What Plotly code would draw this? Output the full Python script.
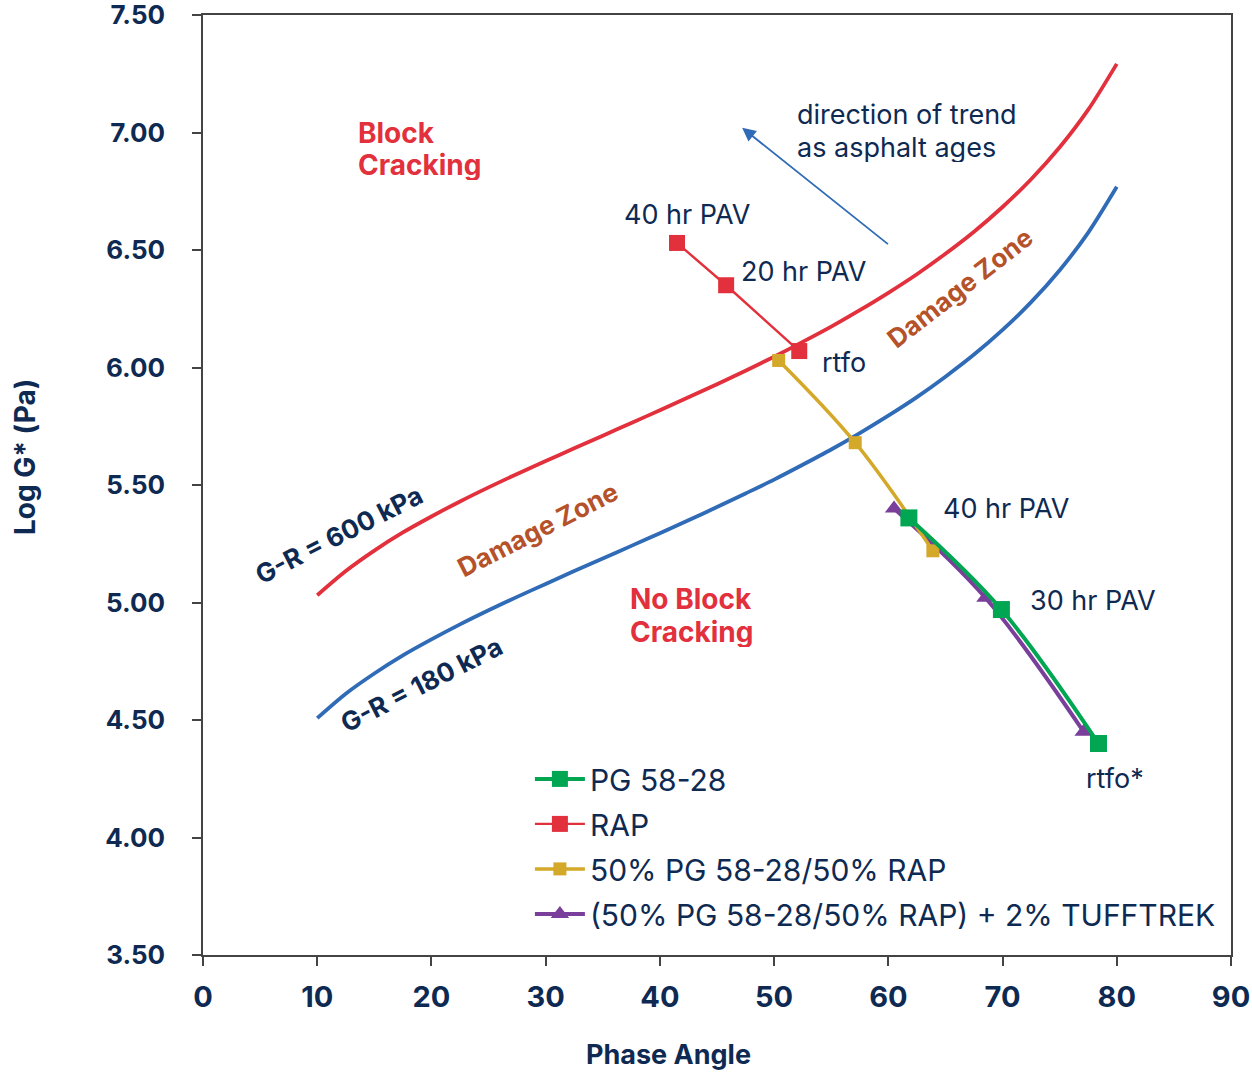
import plotly.graph_objects as go

# ---- data ----
phase_curve = [10, 12.5, 15, 17.5, 20, 22.5, 25, 27.5, 30, 32.5, 35, 37.5, 40, 42.5, 45, 47.5,
               50, 52.5, 55, 57.5, 60, 62.5, 65, 67.5, 70, 72.5, 75, 77.5, 80]
gr600 = [5.031, 5.134, 5.221, 5.298, 5.366, 5.430, 5.490, 5.547, 5.602, 5.656, 5.710, 5.764, 5.818, 5.873,
         5.929, 5.986, 6.046, 6.109, 6.174, 6.244, 6.318, 6.397, 6.484, 6.578, 6.683, 6.801, 6.937, 7.097, 7.292]
gr180 = [4.508, 4.612, 4.698, 4.775, 4.843, 4.907, 4.967, 5.024, 5.079, 5.134, 5.187, 5.241, 5.295, 5.350,
         5.406, 5.464, 5.523, 5.586, 5.651, 5.721, 5.795, 5.874, 5.961, 6.055, 6.160, 6.278, 6.414, 6.574, 6.769]

pg_x = [61.8, 69.9, 78.4]
pg_y = [5.36, 4.97, 4.40]
rap_x = [41.5, 45.8, 52.2]
rap_y = [6.53, 6.35, 6.07]
blend_x = [50.4, 57.1, 63.9]
blend_y = [6.03, 5.68, 5.22]
tuff_x = [60.5, 68.5, 77.1]
tuff_y = [5.40, 5.02, 4.45]

names = ["PG 58-28", "RAP", "50% PG 58-28/50% RAP", "(50% PG 58-28/50% RAP) + 2% TUFFTREK"]

x_ticks = [0, 10, 20, 30, 40, 50, 60, 70, 80, 90]
y_ticks = [3.5, 4.0, 4.5, 5.0, 5.5, 6.0, 6.5, 7.0, 7.5]

NAVY = "#0E2A52"
RED = "#E2303C"
BLUE = "#2F6BB6"
GOLD = "#D4A829"
GREEN = "#00A651"
PURPLE = "#7A3E9B"
BROWN = "#B5522A"
FONT = "Inter"

fig = go.Figure()
fig.add_trace(go.Scatter(x=phase_curve, y=gr600, mode="lines",
                         line=dict(color=RED, width=3.8, shape="spline", smoothing=0.8),
                         showlegend=False, hoverinfo="skip"))
fig.add_trace(go.Scatter(x=phase_curve, y=gr180, mode="lines",
                         line=dict(color=BLUE, width=3.8, shape="spline", smoothing=0.8),
                         showlegend=False, hoverinfo="skip"))

fig.add_trace(go.Scatter(x=tuff_x, y=tuff_y, name=names[3], mode="lines+markers", legendrank=4, legendgroup="d",
                         line=dict(color=PURPLE, width=4, shape="spline"),
                         marker=dict(symbol="triangle-up", size=16, color=PURPLE)))
fig.add_trace(go.Scatter(x=blend_x, y=blend_y, name=names[2], mode="lines+markers", legendrank=3, legendgroup="c",
                         line=dict(color=GOLD, width=3.5, shape="spline"),
                         marker=dict(symbol="square", size=13, color=GOLD)))
fig.add_trace(go.Scatter(x=pg_x, y=pg_y, name=names[0], mode="lines+markers", legendrank=1, legendgroup="a",
                         line=dict(color=GREEN, width=4, shape="spline"),
                         marker=dict(symbol="square", size=17, color=GREEN)))
fig.add_trace(go.Scatter(x=rap_x, y=rap_y, name=names[1], mode="lines+markers", legendrank=2, legendgroup="b",
                         line=dict(color=RED, width=2.4),
                         marker=dict(symbol="square", size=16, color=RED)))

ann = []
def txt(x, y, t, size=27, color=NAVY, bold=False, angle=0, xanchor="left", height=None):
    d = dict(x=x, y=y, xref="x", yref="y", text=t, showarrow=False, textangle=angle,
             xanchor=xanchor, yanchor="middle", align="left",
             font=dict(family=FONT, size=size, color=color, weight=700 if bold else 400))
    if height:
        d["height"] = height
    ann.append(d)

txt(13.4, 7.00, "Block", size=28, color=RED, bold=True, height=30)
txt(13.4, 6.86, "Cracking", size=28, color=RED, bold=True, height=30)
txt(37.2, 5.015, "No Block", size=28, color=RED, bold=True, height=30)
txt(37.2, 4.875, "Cracking", size=28, color=RED, bold=True, height=30)
txt(29.3, 5.31, "Damage Zone", size=26, color=BROWN, bold=True, angle=-27, xanchor="center")
txt(66.3, 6.34, "Damage Zone", size=26, color=BROWN, bold=True, angle=-38, xanchor="center")
txt(11.9, 5.29, "G-R = 600 kPa", size=26, color=NAVY, bold=True, angle=-27, xanchor="center")
txt(19.1, 4.65, "G-R = 180 kPa", size=26, color=NAVY, bold=True, angle=-27, xanchor="center")
txt(51.8, 7.08, "direction of trend", height=30)
txt(51.8, 6.94, "as asphalt ages", height=30)
txt(36.7, 6.65, "40 hr PAV")
txt(46.9, 6.41, "20 hr PAV")
txt(54.0, 6.02, "rtfo")
txt(64.6, 5.40, "40 hr PAV")
txt(72.2, 5.01, "30 hr PAV")
txt(77.1, 4.25, "rtfo*")

ann.append(dict(x=47.2, y=7.02, ax=60.1, ay=6.52, xref="x", yref="y", axref="x", ayref="y", text="",
                showarrow=True, arrowhead=2, arrowsize=1.5, arrowwidth=1.8, arrowcolor=BLUE))

# axis titles
ann.append(dict(x=(668 - 203) / 1028, y=-(1054 - 955) / 940, xref="paper", yref="paper", text="Phase Angle",
                showarrow=False, xanchor="center", yanchor="middle",
                font=dict(family=FONT, size=27, color=NAVY, weight=700)))
ann.append(dict(x=-(203 - 25) / 1028, y=(955 - 457) / 940, xref="paper", yref="paper", text="Log G* (Pa)",
                showarrow=False, textangle=-90, xanchor="center", yanchor="middle",
                font=dict(family=FONT, size=28, color=NAVY, weight=700)))

axis_common = dict(showgrid=False, zeroline=False, showline=True, linecolor="#444", linewidth=1.5,
                   mirror=True, ticks="outside", ticklen=9, tickcolor="#444", tickwidth=1.5,
                   automargin=False, ticklabeloverflow="allow")

fig.update_layout(
    width=1252, height=1072,
    margin=dict(l=203, r=21, t=15, b=117),
    plot_bgcolor="white", paper_bgcolor="white",
    xaxis=dict(range=[0, 90], tickvals=x_ticks, ticktext=[str(v) for v in x_ticks],
               tickfont=dict(family=FONT, size=29, color=NAVY, weight=700), ticklabelstandoff=6, **axis_common),
    yaxis=dict(range=[3.5, 7.5], tickvals=y_ticks, ticktext=[f"{v:.2f}" for v in y_ticks],
               tickfont=dict(family=FONT, size=26, color=NAVY, weight=700), ticklabelstandoff=22, **axis_common),
    legend=dict(x=0.318, y=0.215, xanchor="left", yanchor="top", bgcolor="rgba(0,0,0,0)",
                font=dict(family=FONT, size=30, color=NAVY), traceorder="grouped", tracegroupgap=3,
                itemwidth=50),
    annotations=ann,
    showlegend=True,
)

fig.write_html("out.html", config={"displayModeBar": False},
               post_script="document.body.style.margin='0';document.body.style.overflow='hidden';")
